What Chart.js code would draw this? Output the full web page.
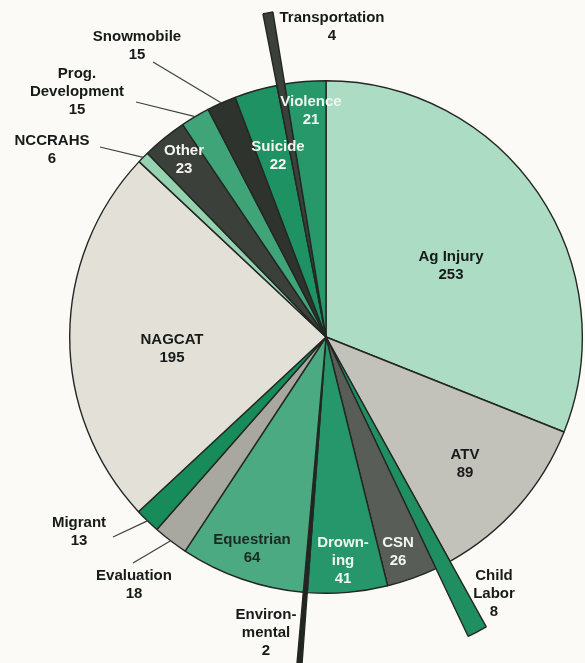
<!DOCTYPE html>
<html><head><meta charset="utf-8">
<script src="https://cdn.jsdelivr.net/npm/chart.js@4.4.1/dist/chart.umd.min.js"></script>
<style>html,body{margin:0;padding:0;background:#fbfaf6;}#wrap{width:585px;height:663px;position:relative}</style>
</head><body><div id="wrap"><canvas id="c" width="585" height="663"></canvas></div>
<script>
// ---- data ----
const categories = ['Ag Injury','ATV','Child Labor','CSN','Drowning','Environmental','Equestrian','Evaluation','Migrant','NAGCAT','NCCRAHS','Other','Prog. Development','Snowmobile','Suicide','Transportation','Violence'];
const values = [253,89,8,26,41,2,64,18,13,195,6,23,15,15,22,4,21];
const labelLines = [['Ag Injury'],['ATV'],['Child','Labor'],['CSN'],['Drown-','ing'],['Environ-','mental'],['Equestrian'],['Evaluation'],['Migrant'],['NAGCAT'],['NCCRAHS'],['Other'],['Prog.','Development'],['Snowmobile'],['Suicide'],['Transportation'],['Violence']];

// ---- styles / layout ----
const colors = ['#acdcc3','#c2c2ba','#1f8e60','#585d57','#26966b','#222622','#4caa82','#a8a8a0','#188b5b','#e2e0d7','#94d2b0','#3b403a','#3fa478','#2e332e','#1f9264','#3b403b','#27986a'];
const textColors = ['#161a18','#161a18','#161a18','#f4f4f0','#eef6f0','#161a18','#1b2a22','#161a18','#161a18','#161a18','#161a18','#f4f4f0','#161a18','#161a18','#f4f4f0','#161a18','#eef6f0'];
const labelPos = [[451,257],[465,455],[494,576],[398,543],[343,543],[266,615],[252,540],[134,576],[79,523],[172,340],[52,141],[184,151],[77,74],[137,37],[278,147],[332,18],[311,102]];
const extraRadius = {2:75, 5:80, 15:73};
const leaderEnds = {12:[136,102], 13:[153,62], 10:[100,147], 8:[113,537], 7:[133,563]};

const explodePlugin = {
  id:'explode',
  afterDatasetUpdate(chart, args){
    const meta = args.meta;
    const base = meta.controller.outerRadius;
    meta.data.forEach((arc,i)=>{ if(extraRadius[i]) arc.outerRadius = base + extraRadius[i]; });
  }
};
const labelPlugin = {
  id:'labels',
  afterDatasetsDraw(chart){
    const ctx = chart.ctx; const meta = chart.getDatasetMeta(0);
    ctx.save();
    ctx.strokeStyle = '#3a4540'; ctx.lineWidth = 1.2;
    for (const k in leaderEnds){
      const arc = meta.data[k];
      const mid = (arc.startAngle + arc.endAngle)/2;
      const r = arc.outerRadius;
      ctx.beginPath();
      ctx.moveTo(leaderEnds[k][0], leaderEnds[k][1]);
      ctx.lineTo(arc.x + r*Math.cos(mid), arc.y + r*Math.sin(mid));
      ctx.stroke();
    }
    ctx.font = 'bold 15px "Liberation Sans", Arial, sans-serif';
    ctx.textAlign = 'center'; ctx.textBaseline = 'middle';
    categories.forEach((c,i)=>{
      const lines = labelLines[i].concat([String(values[i])]);
      ctx.fillStyle = textColors[i];
      lines.forEach((t,j)=> ctx.fillText(t, labelPos[i][0], labelPos[i][1] + j*18));
    });
    ctx.restore();
  }
};

new Chart(document.getElementById('c'), {
  type:'pie',
  data:{ labels: categories, datasets:[{ data: values, backgroundColor: colors, borderColor:'#232724', borderWidth:1.4, clip:false }]},
  options:{
    responsive:false, animation:false, events:[],
    layout:{ padding:{ left:69, right:2, top:80, bottom:69 } },
    plugins:{ legend:{display:false}, tooltip:{enabled:false} }
  },
  plugins:[explodePlugin, labelPlugin]
});
</script></body></html>
